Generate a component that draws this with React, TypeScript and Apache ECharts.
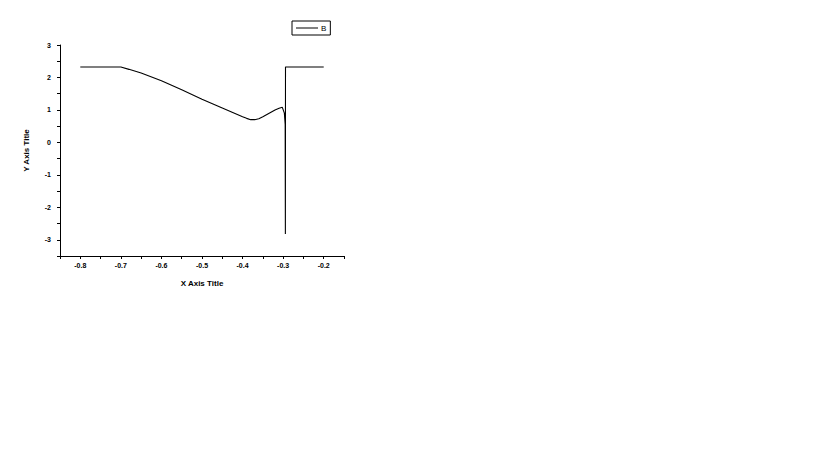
import React, { useEffect, useRef } from "react";
import * as echarts from "echarts";

const seriesName = "B";
const xValues = [-0.8, -0.7, -0.68, -0.65, -0.6, -0.55, -0.5, -0.45, -0.42, -0.4, -0.39, -0.38, -0.37, -0.36, -0.35, -0.34, -0.33, -0.32, -0.31, -0.302, -0.297, -0.295, -0.2945, -0.2942, -0.2];
const yValues = [2.32, 2.32, 2.25, 2.14, 1.9, 1.62, 1.33, 1.06, 0.9, 0.79, 0.74, 0.7, 0.7, 0.73, 0.79, 0.86, 0.93, 1.0, 1.05, 1.08, 0.9, 0.55, -2.82, 2.32, 2.32];
const xTickLabels = [-0.8, -0.7, -0.6, -0.5, -0.4, -0.3, -0.2];
const xTicks = [-0.85, -0.8, -0.75, -0.7, -0.65, -0.6, -0.55, -0.5, -0.45, -0.4, -0.35, -0.3, -0.25, -0.2, -0.15];
const yTickLabels = [-3, -2, -1, 0, 1, 2, 3];
const yTicks = [-3.5, -3, -2.5, -2, -1.5, -1, -0.5, 0, 0.5, 1, 1.5, 2, 2.5, 3];

export default function App() {
  const ref = useRef<HTMLDivElement>(null);
  useEffect(() => {
    if (!ref.current) return;
    const chart = echarts.init(ref.current, null, { renderer: "svg" });
    const font = "Liberation Sans, Arial, sans-serif";
    chart.setOption({
      animation: false,
      backgroundColor: "#ffffff",
      legend: {
        data: [seriesName],
        left: 292,
        top: 21,
        itemWidth: 22,
        itemHeight: 1,
        itemGap: 4,
        padding: [3, 4, 3, 4],
        borderColor: "#000",
        borderWidth: 1,
        icon: "rect",
        textStyle: { fontFamily: font, fontSize: 8, color: "#000", padding: [0, 0, 0, -2] },
      },
      grid: { left: 60, top: 45, right: 475, bottom: 204, containLabel: false },
      xAxis: {
        type: "value",
        min: -0.85,
        max: -0.15,
        name: "X Axis Title",
        nameLocation: "middle",
        nameGap: 23,
        nameTextStyle: { fontFamily: font, fontSize: 8, fontWeight: "bold", color: "#000" },
        axisLine: { show: true, onZero: false, lineStyle: { color: "#000", width: 1 } },
        axisTick: { show: true, inside: false, length: 3, customValues: xTicks, lineStyle: { color: "#000" } },
        axisLabel: {
          customValues: xTickLabels,
          formatter: (v: number) => v.toFixed(1),
          fontFamily: font,
          fontSize: 7,
          fontWeight: "bold",
          color: "#000",
          margin: 6,
        },
        splitLine: { show: false },
      },
      yAxis: {
        type: "value",
        min: -3.5,
        max: 3,
        name: "Y Axis Title",
        nameLocation: "middle",
        nameGap: 30,
        nameRotate: 90,
        nameTextStyle: { fontFamily: font, fontSize: 8, fontWeight: "bold", color: "#000" },
        axisLine: { show: true, onZero: false, lineStyle: { color: "#000", width: 1 } },
        axisTick: { show: true, inside: false, length: 3, customValues: yTicks, lineStyle: { color: "#000" } },
        axisLabel: {
          customValues: yTickLabels,
          formatter: (v: number) => String(v),
          fontFamily: font,
          fontSize: 7,
          fontWeight: "bold",
          color: "#000",
          margin: 9,
        },
        splitLine: { show: false },
      },
      series: [
        {
          name: seriesName,
          type: "line",
          data: xValues.map((x, i) => [x, yValues[i]]),
          showSymbol: false,
          symbol: "none",
          lineStyle: { color: "#000", width: 1.1 },
          itemStyle: { color: "#000" },
        },
      ],
    });
    return () => chart.dispose();
  }, []);
  return <div ref={ref} style={{ width: 819, height: 460, margin: -8 }} />;
}
